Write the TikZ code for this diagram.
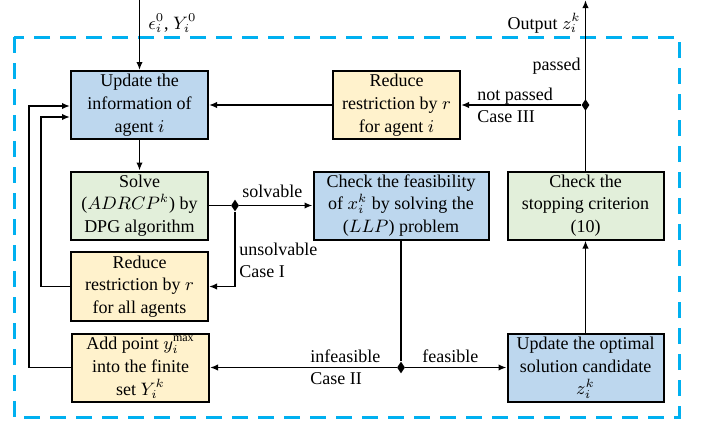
\documentclass[tikz,border=0pt]{standalone}
\usepackage{fontspec}
\setmainfont{Liberation Serif}
\usetikzlibrary{arrows.meta, shapes.geometric}

\definecolor{boxblue}{RGB}{189,215,238}
\definecolor{boxgreen}{RGB}{226,239,218}
\definecolor{boxyellow}{RGB}{255,242,204}
\definecolor{loopcyan}{RGB}{0,176,240}

\tikzset{
  stepbox/.style={draw, line width=1pt, align=center, inner sep=0.5pt, minimum height=34pt, font=\fontsize{9}{11.4}\selectfont},
  bluebox/.style={stepbox, fill=boxblue},
  greenbox/.style={stepbox, fill=boxgreen},
  yellowbox/.style={stepbox, fill=boxyellow},
  flow/.style={line width=0.8pt, -{Latex[length=4pt, width=3.2pt]}},
  link/.style={line width=0.8pt},
  joint/.style={diamond, fill=black, inner sep=0pt, minimum width=4pt, minimum height=6pt},
  lbl/.style={inner sep=0pt, font=\fontsize{9}{11}\selectfont}
}

\begin{document}
\begin{tikzpicture}[x=0.5pt, y=-0.5pt]
    \useasboundingbox (0,0) rectangle (701,424);
    \draw[loopcyan, line width=1.5pt, dash pattern=on 8pt off 5pt] (14,37) rectangle (679,417);

    % boxes
    \node[bluebox, minimum width=68.5pt] (upd) at (139.5,105) {Update the\\information of\\agent $i$};
    \node[yellowbox, minimum width=63.5pt] (redi) at (396.5,105) {Reduce\\restriction by $r$\\for agent $i$};
    \node[greenbox, minimum width=68.5pt] (solve) at (139.5,205.5) {Solve\\($ADRCP^k$) by\\DPG algorithm};
    \node[bluebox, minimum width=87.5pt] (feas) at (401,205.5) {Check the feasibility\\of $x_i^k$ by solving the\\($LLP$) problem};
    \node[greenbox, minimum width=78pt] (stop) at (585.5,205.5) {Check the\\stopping criterion\\(10)};
    \node[yellowbox, minimum width=68.5pt, minimum height=34.5pt] (reda) at (139.5,286.5) {Reduce\\restriction by $r$\\for all agents};
    \node[yellowbox, minimum width=68.5pt] (addp) at (140.5,367.5) {Add point $y_i^{\max}$\\into the finite\\set $Y_i^k$};
    \node[bluebox, minimum width=78pt] (opt) at (585.5,367.5) {Update the optimal\\solution candidate\\$z_i^k$};

    % junctions
    \node[joint] (j1) at (235,205.5) {};
    \node[joint] (j2) at (401,367.5) {};
    \node[joint] (j3) at (585.5,105) {};
    \coordinate (in) at (139.5,0);
    \coordinate (out) at (585.5,0);
    \coordinate (ra) at (41,117);
    \coordinate (rb) at (29,106);

    % connectors
    \draw[flow] (in) -- (upd);
    \draw[flow] (upd) -- (solve);
    \draw[link] (solve) -- (j1);
    \draw[flow] (j1) -- (feas);
    \draw[flow] (j1) |- (reda);
    \draw[flow] (reda.west) -| (ra) -- (upd.west |- ra);
    \draw[link] (feas) -- (j2);
    \draw[flow] (j2) -- (opt);
    \draw[flow] (j2) -- (addp);
    \draw[flow] (addp.west) -| (rb) -- (upd.west |- rb);
    \draw[flow] (opt) -- (stop);
    \draw[flow] (stop) -- (out);
    \draw[flow] (j3) -- (redi);
    \draw[flow] (redi) -- (upd);

    % labels
    \node[lbl, anchor=base west] (inlbl) at (148,29) {$\epsilon_i^0$, $Y_i^0$};
    \node[lbl, anchor=base east] (outlbl) at (581,29) {Output $z_i^k$};
    \node[lbl, anchor=base east] (passlbl) at (581,70) {passed};
    \node[lbl, anchor=base west] (npasslbl) at (477,100) {not passed};
    \node[lbl, anchor=base west] (case3) at (477,122) {Case III};
    \node[lbl, anchor=base west] (solvlbl) at (242,197) {solvable};
    \node[lbl, anchor=base west] (unsolvlbl) at (239,255) {unsolvable};
    \node[lbl, anchor=base west] (case1) at (239,277) {Case I};
    \node[lbl, anchor=base west] (infeaslbl) at (310,362) {infeasible};
    \node[lbl, anchor=base west] (case2) at (310,384) {Case II};
    \node[lbl, anchor=base west] (feaslbl) at (422,362) {feasible};
\end{tikzpicture}
\end{document}
